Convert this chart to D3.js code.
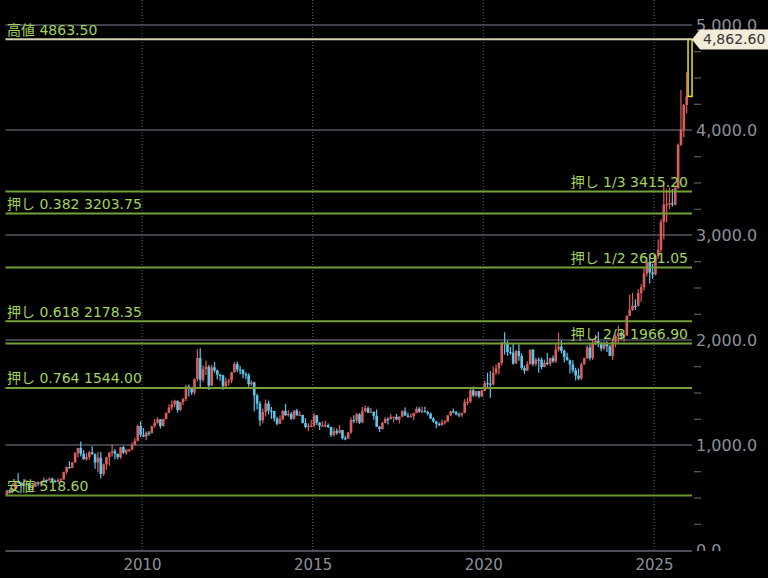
<!DOCTYPE html>
<html><head><meta charset="utf-8">
<script src="https://cdn.jsdelivr.net/npm/d3@7/dist/d3.min.js"></script>
<style>
body{margin:0;background:#000;overflow:hidden}
svg{display:block;background:#000}
</style></head>
<body><svg id="chart" width="768" height="578"></svg>
<script>
// Monthly candles, Jan 2006 .. Jan 2026
const firstYear = 2006;
const open = [
 519,569,556,583,654,643,614,633,624,599,604,646,
 632,650,669,662,679,659,650,665,673,743,789,783,
 834,923,972,916,864,886,930,913,833,880,724,815,
 882,928,942,916,884,979,926,955,956,1001,1040,1182,
 1096,1081,1118,1113,1180,1212,1244,1181,1248,1307,1357,1386,
 1421,1333,1409,1439,1556,1536,1500,1628,1828,1620,1722,1746,
 1566,1740,1710,1669,1664,1561,1604,1614,1692,1772,1719,1713,
 1675,1664,1579,1596,1472,1393,1234,1313,1396,1327,1323,1253,
 1202,1244,1326,1284,1296,1250,1327,1282,1287,1209,1172,1182,
 1184,1283,1213,1183,1184,1190,1172,1095,1133,1115,1142,1065,
 1061,1118,1238,1233,1293,1215,1322,1351,1309,1316,1277,1173,
 1152,1211,1249,1248,1268,1269,1242,1269,1322,1280,1271,1275,
 1303,1345,1318,1325,1315,1299,1253,1224,1201,1192,1215,1222,
 1282,1321,1313,1292,1284,1305,1409,1413,1520,1472,1513,1464,
 1517,1589,1585,1577,1686,1730,1781,1975,1968,1886,1879,1776,
 1895,1847,1734,1708,1769,1906,1770,1814,1813,1743,1783,1774,
 1829,1797,1909,1937,1897,1838,1807,1766,1711,1661,1633,1768,
 1824,1928,1827,1969,1990,1963,1919,1965,1940,1849,1983,2036,
 2063,2039,2044,2230,2286,2327,2326,2447,2503,2634,2744,2643,
 2625,2798,2858,3124,3289,3295,3303,3290,3448,3858,4003,4239,
 4320
];
const high = [
 570,574,587,655,730,644,676,663,638,609,649,650,
 652,690,671,693,691,672,683,684,745,795,845,841,
 931,974,1033,951,925,942,989,919,935,936,825,888,
 931,1006,962,917,982,990,959,962,1025,1070,1195,1227,
 1162,1128,1134,1183,1249,1265,1245,1250,1308,1388,1424,1431,
 1424,1411,1448,1575,1577,1553,1632,1912,1921,1758,1804,1763,
 1764,1791,1718,1677,1669,1640,1628,1695,1790,1796,1755,1723,
 1694,1684,1617,1605,1488,1417,1348,1434,1424,1362,1327,1268,
 1280,1332,1392,1331,1315,1332,1345,1322,1287,1255,1208,1238,
 1307,1285,1219,1224,1232,1205,1175,1170,1157,1191,1145,1088,
 1123,1263,1283,1304,1303,1363,1375,1367,1353,1318,1338,1180,
 1220,1264,1262,1296,1270,1296,1274,1331,1357,1306,1299,1307,
 1366,1361,1366,1365,1326,1309,1266,1232,1214,1243,1237,1284,
 1326,1347,1324,1310,1306,1439,1453,1555,1557,1517,1516,1525,
 1611,1689,1704,1747,1765,1789,1984,2075,1992,1933,1965,1907,
 1959,1872,1756,1798,1913,1917,1834,1833,1834,1814,1877,1831,
 1853,1975,2070,1998,1910,1879,1815,1808,1735,1730,1786,1833,
 1949,1960,2009,2048,2079,1984,1987,1987,1953,2009,2052,2135,
 2088,2065,2236,2431,2450,2388,2483,2531,2685,2790,2801,2726,
 2817,2956,3149,3500,3435,3452,3439,3454,3871,4381,4245,4550,
 4863.5
];
const low = [
 518.6,538,538,581,635,543,605,612,560,561,603,613,
 603,645,636,661,650,641,647,642,668,723,775,780,
 834,884,891,860,850,859,906,773,740,681,705,764,
 802,891,865,865,868,914,905,932,950,998,1035,1075,
 1075,1045,1088,1111,1165,1203,1157,1176,1242,1305,1330,1360,
 1309,1327,1381,1418,1462,1478,1478,1604,1535,1600,1666,1523,
 1563,1689,1627,1612,1527,1547,1564,1588,1690,1693,1672,1636,
 1626,1555,1562,1321,1339,1180,1207,1271,1291,1251,1225,1187,
 1200,1238,1277,1268,1240,1240,1280,1273,1206,1160,1131,1170,
 1167,1190,1142,1175,1170,1162,1077,1080,1098,1107,1052,1046,
 1060,1107,1208,1207,1200,1207,1310,1302,1305,1241,1171,1123,
 1146,1206,1195,1244,1214,1236,1205,1267,1278,1260,1264,1237,
 1302,1307,1303,1310,1282,1246,1211,1160,1180,1182,1196,1221,
 1276,1302,1281,1266,1266,1302,1382,1400,1459,1458,1445,1454,
 1513,1548,1451,1567,1670,1671,1757,1863,1849,1860,1764,1775,
 1802,1717,1677,1705,1766,1751,1751,1688,1721,1740,1759,1753,
 1781,1780,1890,1872,1787,1805,1681,1688,1615,1617,1616,1765,
 1823,1804,1810,1950,1932,1893,1903,1885,1846,1810,1931,1973,
 2002,1984,2038,2228,2277,2286,2319,2364,2472,2604,2537,2583,
 2615,2772,2833,2957,3121,3248,3268,3281,3437,3850,3930,4160,
 4300
];
const close = [
 569,556,583,654,643,614,633,624,599,604,646,632,
 650,669,662,679,659,650,665,673,743,789,783,834,
 923,972,916,864,886,930,913,833,880,724,815,882,
 928,942,916,884,979,926,955,956,1001,1040,1182,1096,
 1081,1118,1113,1180,1212,1244,1181,1248,1307,1357,1386,1421,
 1333,1409,1439,1556,1536,1500,1628,1828,1620,1722,1746,1566,
 1740,1710,1669,1664,1561,1604,1614,1692,1772,1719,1713,1675,
 1664,1579,1596,1472,1393,1234,1313,1396,1327,1323,1253,1202,
 1244,1326,1284,1296,1250,1327,1282,1287,1209,1172,1182,1184,
 1283,1213,1183,1184,1190,1172,1095,1133,1115,1142,1065,1061,
 1118,1238,1233,1293,1215,1322,1351,1309,1316,1277,1173,1152,
 1211,1249,1248,1268,1269,1242,1269,1322,1280,1271,1275,1303,
 1345,1318,1325,1315,1299,1253,1224,1201,1192,1215,1222,1282,
 1321,1313,1292,1284,1305,1409,1413,1520,1472,1513,1464,1517,
 1589,1585,1577,1686,1730,1781,1975,1968,1886,1879,1776,1895,
 1847,1734,1708,1769,1906,1770,1814,1813,1743,1783,1774,1829,
 1797,1909,1937,1897,1838,1807,1766,1711,1661,1633,1768,1824,
 1928,1827,1969,1990,1963,1919,1965,1940,1849,1983,2036,2063,
 2039,2044,2230,2286,2327,2326,2447,2503,2634,2744,2643,2625,
 2798,2858,3124,3289,3295,3303,3290,3448,3858,4003,4239,4320,
 4862.6
];
const yMajorTicks = [0,1000,2000,3000,4000,5000];
const yMinorTicks = [250,500,750,1250,1500,1750,2250,2500,2750,3250,3500,3750,4250,4500,4750];
const yearTicks = [2010,2015,2020,2025];
const levelLabels = ["高値 4863.50","押し 1/3 3415.20","押し 0.382 3203.75","押し 1/2 2691.05","押し 0.618 2178.35","押し 2/3 1966.90","押し 0.764 1544.00","安値 518.60"];
const levelValues = [4863.50,3415.20,3203.75,2691.05,2178.35,1966.90,1544.00,518.60];
const levelSide = ["left","right","left","right","left","right","left","left"];
const lastPriceLabel = "4,862.60";

const svg = d3.select("#chart");
const L = 5.5, R = 692;
const x = d3.scaleTime().domain([new Date(2006,0,1), new Date(2026,1,1)]).range([5.5, 691]);
const y = d3.scaleLinear().domain([0,5000]).range([550,25]);

const data = close.map((c,i)=>({
  i, o:open[i], h:high[i], l:low[i], c,
  x0:x(new Date(firstYear,i,1)), x1:x(new Date(firstYear,i+1,1))
}));

// horizontal grid
svg.append("g").selectAll("line").data(yMajorTicks.filter(v=>v>0)).join("line")
  .attr("x1",L).attr("x2",R).attr("y1",d=>y(d)).attr("y2",d=>y(d))
  .attr("stroke","#3c4049").attr("stroke-width",2);
// vertical dotted grid
svg.append("g").selectAll("line").data(yearTicks).join("line")
  .attr("x1",d=>x(new Date(d,0,1))).attr("x2",d=>x(new Date(d,0,1)))
  .attr("y1",0).attr("y2",551)
  .attr("stroke","#5a5f68").attr("stroke-width",1).attr("stroke-dasharray","1,2");

// bottom axis
const xAxis = svg.append("g").attr("transform","translate(0,551)")
  .call(d3.axisBottom(x).tickValues(yearTicks.map(d=>new Date(d,0,1))).tickFormat(d3.timeFormat("%Y")).tickSize(0).tickPadding(8));
xAxis.select(".domain").remove();
xAxis.selectAll("text").attr("fill","#8c919a").style("font-family","'DejaVu Sans'").style("font-size","15px");
svg.append("line").attr("x1",L).attr("x2",R).attr("y1",551).attr("y2",551).attr("stroke","#4a4e57").attr("stroke-width",2);

// right axis
svg.append("clipPath").attr("id","yclip").append("rect").attr("x",680).attr("y",0).attr("width",100).attr("height",551);
const yAxisG = svg.append("g").attr("clip-path","url(#yclip)");
const yAxis = yAxisG.append("g").attr("transform",`translate(${R},0)`)
  .call(d3.axisRight(y).tickValues(yMajorTicks).tickFormat(d3.format(",.1f")).tickSize(0).tickPadding(4));
yAxis.select(".domain").remove();
yAxis.selectAll("text").attr("fill","#8c919a").style("font-family","'DejaVu Sans'").style("font-size","16px");
const yMinor = yAxisG.append("g").attr("transform",`translate(${R+2},0)`)
  .call(d3.axisRight(y).tickValues(yMinorTicks).tickFormat("").tickSize(7));
yMinor.select(".domain").remove();
yMinor.selectAll("line").attr("stroke","#6a6e76").attr("stroke-width",1);

// candles
const upC = "#d95f5c", dnC = "#5ec6ee";
const hist = data.slice(0,-1);
const cg = svg.append("g");
cg.selectAll("line").data(hist).join("line")
  .attr("x1",d=>(d.x0+d.x1)/2).attr("x2",d=>(d.x0+d.x1)/2)
  .attr("y1",d=>y(d.h)).attr("y2",d=>y(d.l))
  .attr("stroke",d=>d.c>=d.o?upC:dnC).attr("stroke-width",1.2);
cg.selectAll("rect").data(hist).join("rect")
  .attr("x",d=>(d.x0+d.x1)/2-1.3).attr("width",2.6)
  .attr("y",d=>y(Math.max(d.o,d.c))).attr("height",d=>Math.max(1.2,Math.abs(y(d.o)-y(d.c))))
  .attr("fill",d=>d.c>=d.o?upC:dnC);
// current candle (highlighted)
const last = data[data.length-1];
svg.append("rect")
  .attr("x",(last.x0+last.x1)/2-1.5).attr("width",4)
  .attr("y",y(last.c)).attr("height",y(last.o)-y(last.c))
  .attr("fill","none").attr("stroke","#e8e41a").attr("stroke-width",1.5);

// level lines and labels
const lg = svg.append("g");
levelValues.forEach((v,k)=>{
  const col = k===0 ? "#d3d1ab" : (k===levelValues.length-1 ? "#66922f" : "#74a03a");
  lg.append("line").attr("x1",L).attr("x2",R).attr("y1",y(v)).attr("y2",y(v))
    .attr("stroke",col).attr("stroke-width",2);
  lg.append("text")
    .attr("x",levelSide[k]==="left"?7:688)
    .attr("y",y(v)-4.5)
    .attr("text-anchor",levelSide[k]==="left"?"start":"end")
    .attr("fill","#a2d35a")
    .style("font-family","'DejaVu Sans','Noto Sans CJK JP'")
    .style("font-size","14px")
    .text(levelLabels[k]);
});

// last price tag
const ty = y(last.c);
svg.append("path")
  .attr("d",`M${R},${ty} L${R+8},${ty-10} L768,${ty-10} L768,${ty+10} L${R+8},${ty+10} Z`)
  .attr("fill","#f3ecd8");
svg.append("text").attr("x",703).attr("y",ty).attr("dy","0.35em")
  .attr("fill","#333").style("font-family","'DejaVu Sans'").style("font-size","14px")
  .text(lastPriceLabel);
</script>
</body></html>
